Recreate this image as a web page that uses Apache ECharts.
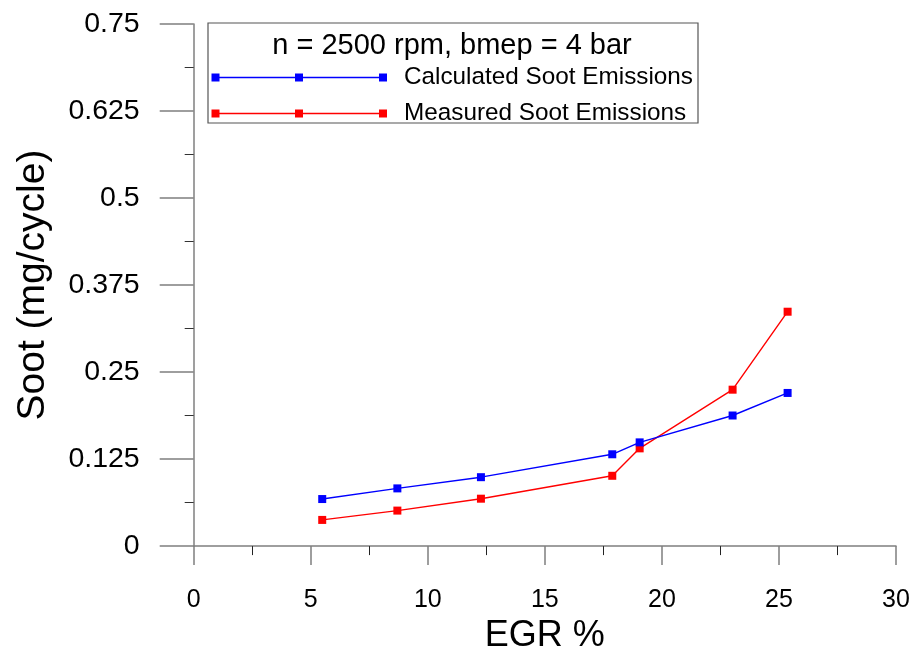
<!DOCTYPE html>
<html>
<head>
<meta charset="utf-8">
<script src="https://cdn.jsdelivr.net/npm/echarts@6/dist/echarts.min.js"></script>
<style>
  html, body { margin: 0; padding: 0; background: #ffffff; }
  #chart { width: 915px; height: 659px; }
</style>
</head>
<body>
<div id="chart"></div>
<script>
// EGR rate (%) of each operating point
const egr = [5.49, 8.70, 12.27, 17.88, 19.05, 23.02, 25.37];
// Soot per cycle (mg/cycle)
const sootCalculated = [0.0676, 0.0829, 0.099, 0.1319, 0.149, 0.1876, 0.22];
const sootMeasured = [0.0376, 0.051, 0.0681, 0.101, 0.1404, 0.2247, 0.3367];

// Axis ticks
const xTicks = [0, 5, 10, 15, 20, 25, 30];
const yTicks = ['0', '0.125', '0.25', '0.375', '0.5', '0.625', '0.75'];

const legendTitle = 'n = 2500 rpm, bmep = 4 bar';
const seriesNames = ['Calculated Soot Emissions', 'Measured Soot Emissions'];
const seriesColors = ['#0000ff', '#ff0000'];

const chart = echarts.init(document.getElementById('chart'), null, { renderer: 'canvas' });

const axisGray = '#7f7f7f';

function pairs(xs, ys) {
  return xs.map((x, i) => [x, ys[i]]);
}

// Legend drawn as a boxed block: title, then a sample line with three markers per series
function legendGraphics() {
  const box = { x: 208, y: 23, w: 490, h: 100 };
  const rows = [77.5, 113.5];
  const els = [{
    type: 'rect',
    shape: { x: box.x, y: box.y, width: box.w, height: box.h },
    style: { fill: '#ffffff', stroke: '#555555', lineWidth: 1.2 },
    z: 10
  }, {
    type: 'text',
    x: 452, y: 46,
    style: {
      text: legendTitle, fill: '#000000',
      font: '29px "Liberation Sans", Arial, sans-serif',
      align: 'center', verticalAlign: 'middle'
    },
    z: 11
  }];
  rows.forEach((ry, i) => {
    els.push({
      type: 'line',
      shape: { x1: 215.5, y1: ry, x2: 383, y2: ry },
      style: { stroke: seriesColors[i], lineWidth: 1.4 },
      z: 11
    });
    [215.5, 299, 383].forEach(mx => {
      els.push({
        type: 'rect',
        shape: { x: mx - 4, y: ry - 4, width: 8, height: 8 },
        style: { fill: seriesColors[i] },
        z: 12
      });
    });
    els.push({
      type: 'text',
      x: 404, y: ry,
      style: {
        text: seriesNames[i], fill: '#000000',
        font: '24.3px "Liberation Sans", Arial, sans-serif',
        align: 'left', verticalAlign: 'middle'
      },
      z: 11
    });
  });
  return els;
}

const option = {
  animation: false,
  backgroundColor: '#ffffff',
  grid: { left: 193.7, right: 19, top: 24, bottom: 110, containLabel: false },
  xAxis: {
    type: 'value',
    min: 0, max: 30, interval: 5,
    name: 'EGR %',
    nameLocation: 'middle',
    nameGap: 70,
    nameTextStyle: { fontSize: 36, fontFamily: '"Liberation Sans", Arial, sans-serif', color: '#000000' },
    axisLine: { show: true, onZero: false, lineStyle: { color: axisGray, width: 1.5 } },
    axisTick: { show: true, length: 19, lineStyle: { color: axisGray, width: 1.5 } },
    minorTick: { show: true, splitNumber: 2, length: 9, lineStyle: { color: '#222222', width: 1 } },
    axisLabel: {
      margin: 42,
      fontSize: 25,
      fontFamily: '"Liberation Sans Narrow", "Liberation Sans", Arial, sans-serif',
      color: '#000000',
      formatter: v => (xTicks.indexOf(v) >= 0 ? String(v) : '')
    },
    splitLine: { show: false }
  },
  yAxis: {
    type: 'value',
    min: 0, max: 0.75, interval: 0.125,
    name: 'Soot (mg/cycle)',
    nameLocation: 'middle',
    nameGap: 141,
    nameTextStyle: { fontSize: 39, fontFamily: '"Liberation Sans", Arial, sans-serif', color: '#000000' },
    axisLine: { show: true, onZero: false, lineStyle: { color: axisGray, width: 1.5 } },
    axisTick: { show: true, length: 34, lineStyle: { color: axisGray, width: 1.5 } },
    minorTick: { show: true, splitNumber: 2, length: 9, lineStyle: { color: '#333333', width: 1 } },
    axisLabel: {
      margin: 54,
      fontSize: 28.5,
      fontFamily: '"Liberation Sans", Arial, sans-serif',
      color: '#000000',
      formatter: (v) => {
        const idx = Math.round(v / 0.125);
        return yTicks[idx] !== undefined ? yTicks[idx] : '';
      }
    },
    splitLine: { show: false }
  },
  series: [{
    name: seriesNames[0],
    type: 'line',
    data: pairs(egr, sootCalculated),
    symbol: 'rect',
    symbolSize: 8,
    lineStyle: { color: seriesColors[0], width: 1.4 },
    itemStyle: { color: seriesColors[0] },
    z: 3
  }, {
    name: seriesNames[1],
    type: 'line',
    data: pairs(egr, sootMeasured),
    symbol: 'rect',
    symbolSize: 8,
    lineStyle: { color: seriesColors[1], width: 1.4 },
    itemStyle: { color: seriesColors[1] },
    z: 2
  }],
  graphic: legendGraphics()
};

chart.setOption(option);
</script>
</body>
</html>
